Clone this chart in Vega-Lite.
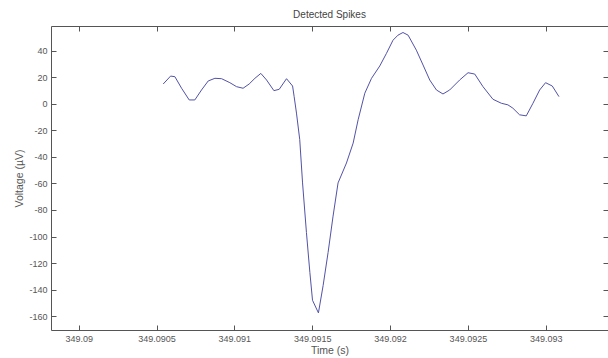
{
  "$schema": "https://vega.github.io/schema/vega-lite/v6.json",
  "autosize": {"type": "none"},
  "padding": {"left": 51, "top": 26, "right": 0, "bottom": 28},
  "width": 557,
  "height": 304,
  "background": "white",
  "config": {
    "view": {"stroke": "#555555", "strokeWidth": 1},
    "font": "Liberation Sans",
    "axis": {
      "grid": false,
      "domain": false,
      "tickColor": "#555555",
      "tickSize": -5,
      "labelColor": "#555555",
      "labelFont": "Liberation Sans",
      "labelFontSize": 9,
      "titleColor": "#555555",
      "titleFont": "Liberation Sans",
      "titleFontSize": 10.5,
      "titleFontWeight": "normal"
    }
  },
  "title": {
    "text": "Detected Spikes",
    "font": "Liberation Sans",
    "fontSize": 10,
    "fontWeight": "normal",
    "color": "#444444",
    "offset": 6
  },
  "data": {
    "values": [
      {"t": 349.090543, "v": 14.9},
      {"t": 349.0905905, "v": 20.9},
      {"t": 349.090618, "v": 20.4},
      {"t": 349.090661, "v": 11.7},
      {"t": 349.09071, "v": 2.9},
      {"t": 349.090746, "v": 2.9},
      {"t": 349.090789, "v": 10.4},
      {"t": 349.090832, "v": 17.2},
      {"t": 349.090875, "v": 19.2},
      {"t": 349.090918, "v": 18.9},
      {"t": 349.090971, "v": 15.9},
      {"t": 349.091014, "v": 12.9},
      {"t": 349.091056, "v": 11.7},
      {"t": 349.091095, "v": 14.9},
      {"t": 349.091132, "v": 19.2},
      {"t": 349.09117, "v": 22.9},
      {"t": 349.091207, "v": 17.9},
      {"t": 349.091254, "v": 9.9},
      {"t": 349.091288, "v": 10.9},
      {"t": 349.091335, "v": 18.9},
      {"t": 349.091374, "v": 13.4},
      {"t": 349.091384, "v": 5.4},
      {"t": 349.091399, "v": -7},
      {"t": 349.09142, "v": -27},
      {"t": 349.091438, "v": -59.6},
      {"t": 349.091463, "v": -97},
      {"t": 349.091485, "v": -127},
      {"t": 349.091502, "v": -148},
      {"t": 349.09154, "v": -157.5},
      {"t": 349.09157, "v": -137},
      {"t": 349.091602, "v": -112},
      {"t": 349.091634, "v": -84.6},
      {"t": 349.091666, "v": -59.6},
      {"t": 349.09172, "v": -44.6},
      {"t": 349.091763, "v": -29.6},
      {"t": 349.091795, "v": -12},
      {"t": 349.091838, "v": 8},
      {"t": 349.091881, "v": 19.2},
      {"t": 349.091934, "v": 28.5},
      {"t": 349.091977, "v": 38},
      {"t": 349.092019, "v": 47.9},
      {"t": 349.092051, "v": 51.7},
      {"t": 349.092083, "v": 53.7},
      {"t": 349.092116, "v": 51.7},
      {"t": 349.092169, "v": 40.4},
      {"t": 349.092212, "v": 29.2},
      {"t": 349.092255, "v": 17.9},
      {"t": 349.092298, "v": 10.4},
      {"t": 349.09234, "v": 7.4},
      {"t": 349.092383, "v": 10.4},
      {"t": 349.092447, "v": 17.9},
      {"t": 349.092501, "v": 23.4},
      {"t": 349.092544, "v": 22.4},
      {"t": 349.092597, "v": 12.9},
      {"t": 349.092661, "v": 3.4},
      {"t": 349.092715, "v": 0.4},
      {"t": 349.092757, "v": -0.8},
      {"t": 349.092789, "v": -3.3},
      {"t": 349.092832, "v": -8.3},
      {"t": 349.092875, "v": -9.1},
      {"t": 349.092918, "v": 0.4},
      {"t": 349.092961, "v": 10.4},
      {"t": 349.092999, "v": 15.9},
      {"t": 349.093042, "v": 13.4},
      {"t": 349.093085, "v": 5.4}
    ]
  },
  "layer": [
    {
      "mark": {"type": "line", "color": "#5252a8", "strokeWidth": 1, "clip": true},
      "encoding": {
        "x": {
          "field": "t", "type": "quantitative",
          "scale": {"domain": [349.0898222, 349.0934], "nice": false, "zero": false},
          "axis": {
            "orient": "bottom",
            "title": "Time (s)",
            "values": [349.09, 349.0905, 349.091, 349.0915, 349.092, 349.0925, 349.093],
            "labelExpr": "toString(datum.value)",
            "labelPadding": 9,
            "titlePadding": 2
          }
        },
        "y": {
          "field": "v", "type": "quantitative",
          "scale": {"domain": [-170.4, 58.6], "nice": false, "zero": false},
          "axis": {
            "orient": "left",
            "title": "Voltage (µV)",
            "values": [-160, -140, -120, -100, -80, -60, -40, -20, 0, 20, 40],
            "labelExpr": "toString(datum.value)",
            "labelPadding": 9,
            "titlePadding": 4
          }
        }
      }
    },
    {
      "mark": {"type": "line", "opacity": 0},
      "encoding": {
        "x": {
          "field": "t", "type": "quantitative",
          "axis": {
            "orient": "top",
            "title": null,
            "labels": false,
            "values": [349.09, 349.0905, 349.091, 349.0915, 349.092, 349.0925, 349.093]
          }
        },
        "y": {
          "field": "v", "type": "quantitative",
          "axis": {
            "orient": "right",
            "title": null,
            "labels": false,
            "values": [-160, -140, -120, -100, -80, -60, -40, -20, 0, 20, 40]
          }
        }
      }
    }
  ],
  "resolve": {"axis": {"x": "independent", "y": "independent"}}
}
